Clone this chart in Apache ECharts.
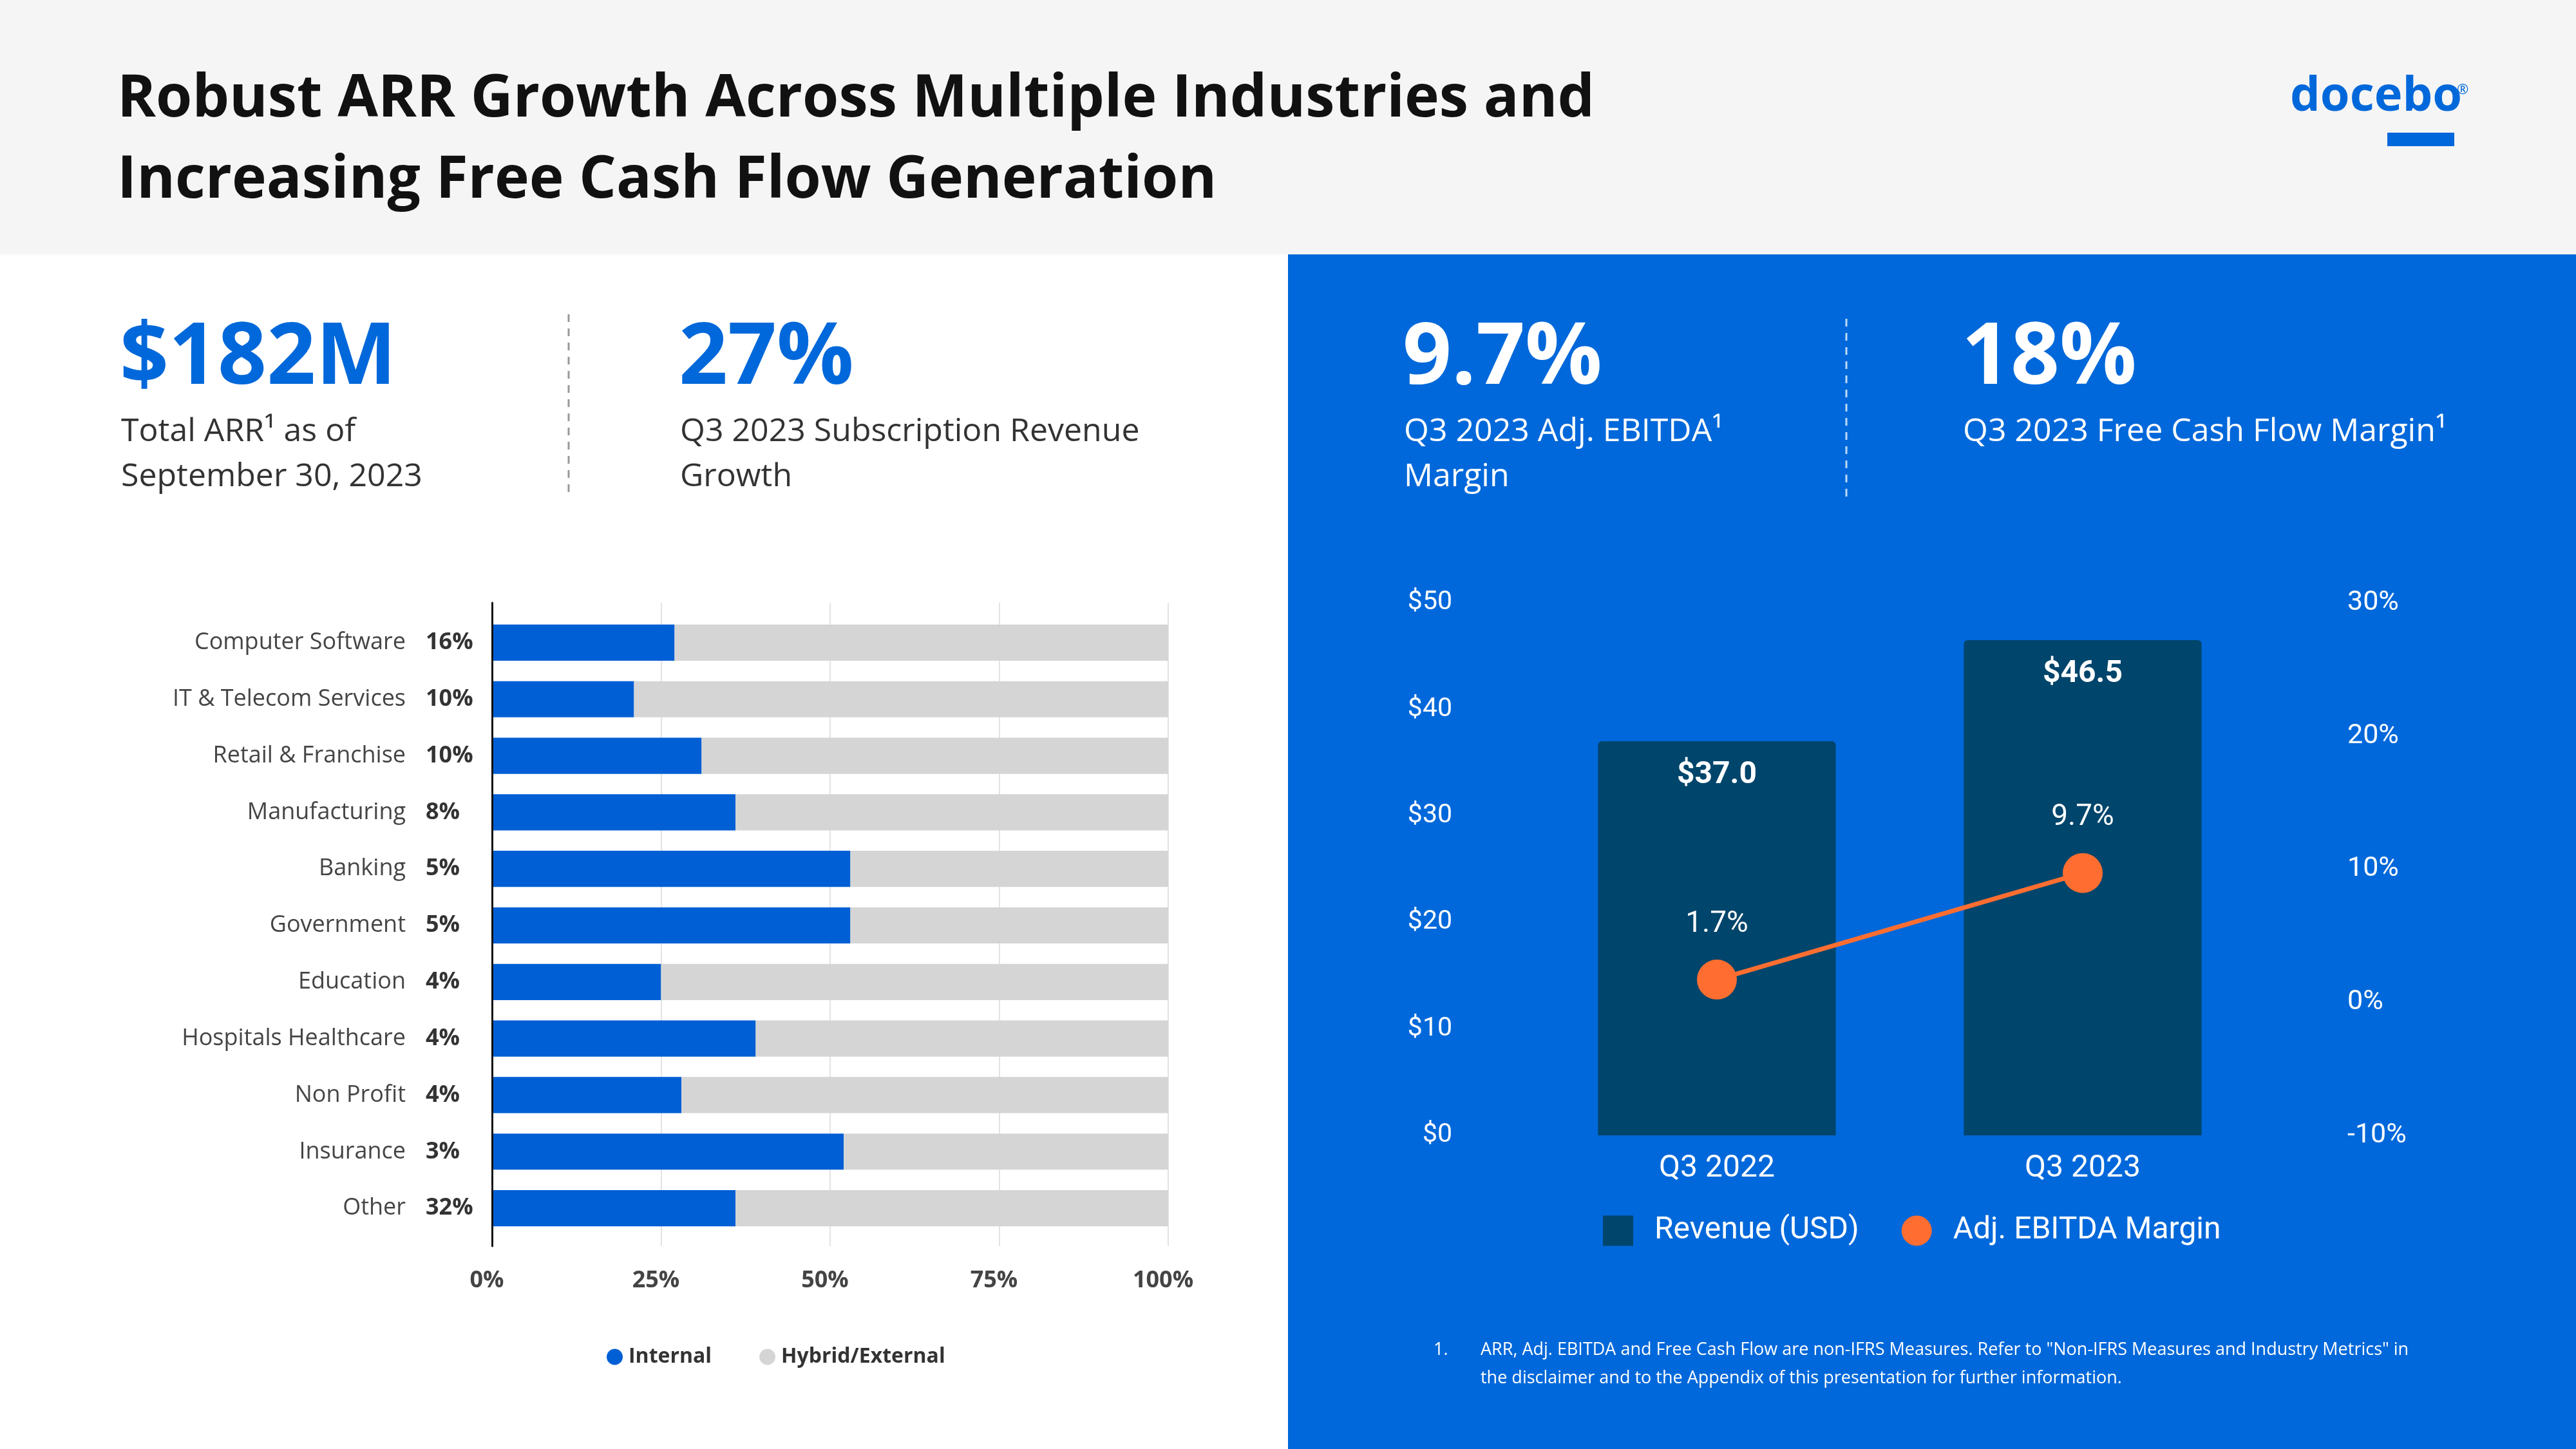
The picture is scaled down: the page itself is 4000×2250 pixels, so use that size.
<!DOCTYPE html>
<html><head><meta charset="utf-8">
<script src="https://cdn.jsdelivr.net/npm/echarts@6/dist/echarts.min.js"></script>
<style>html,body{margin:0;padding:0;background:#fff}#c{width:4000px;height:2250px}</style>
</head><body><div id="c"></div>
<script>
// ---- data ----
const industries = ['Computer Software','IT & Telecom Services','Retail & Franchise','Manufacturing','Banking','Government','Education','Hospitals Healthcare','Non Profit','Insurance','Other'];
const arrShare = ['16%','10%','10%','8%','5%','5%','4%','4%','4%','3%','32%'];
const internalPct = [27,21,31,36,53,53,25,39,28,52,36];
const hybridPct = [73,79,69,64,47,47,75,61,72,48,64];
const quarters = ['Q3 2022','Q3 2023'];
const revenue = [37.0,46.5];
const ebitdaMargin = [1.7,9.7];
const titleLines = ['Robust ARR Growth Across Multiple Industries and','Increasing Free Cash Flow Generation'];
const footnote = ['ARR, Adj. EBITDA and Free Cash Flow are non-IFRS Measures. Refer to "Non-IFRS Measures and Industry Metrics" in','the disclaimer and to the Appendix of this presentation for further information.'];

const BLUE = '#0068DA';
const chart = echarts.init(document.getElementById('c'));
const OS = 'Open Sans';
const RB = 'Roboto';

const graphics = [
  {type:'rect', z:-100, shape:{x:0,y:0,width:4000,height:395}, style:{fill:'#f5f5f5'}},
  {type:'rect', z:-100, shape:{x:2000,y:395,width:2000,height:1855}, style:{fill:BLUE}},
  {type:'text', z:100, x:182, y:92, style:{text:titleLines.join('\n'), fontFamily:OS, fontWeight:'bold', fontSize:91, lineHeight:126, fill:'#111', align:'left', verticalAlign:'top'}},
  {type:'text', z:100, x:3556, y:151, style:{text:'docebo', fontFamily:OS, fontWeight:'bold', fontSize:74, fill:BLUE, align:'left', verticalAlign:'middle'}},
  {type:'text', z:100, x:3815, y:140, style:{text:'®', fontFamily:OS, fontSize:22, fill:BLUE, align:'left', verticalAlign:'middle'}},
  {type:'rect', z:100, shape:{x:3707,y:206,width:104,height:21}, style:{fill:BLUE}},
  // KPIs
  {type:'text', z:100, x:186, y:558, style:{text:'$182M', fontFamily:OS, fontWeight:'bold', fontSize:133, fill:BLUE, align:'left', verticalAlign:'middle'}},
  {type:'text', z:100, x:188, y:636, style:{text:'Total ARR¹ as of\nSeptember 30, 2023', fontFamily:OS, fontSize:50, lineHeight:70, fill:'#333', align:'left', verticalAlign:'top'}},
  {type:'line', z:100, shape:{x1:883,y1:488,x2:883,y2:773}, style:{stroke:'#999', lineWidth:3, lineDash:[12,10]}},
  {type:'text', z:100, x:1054, y:558, style:{text:'27%', fontFamily:OS, fontWeight:'bold', fontSize:133, fill:BLUE, align:'left', verticalAlign:'middle'}},
  {type:'text', z:100, x:1056, y:636, style:{text:'Q3 2023 Subscription Revenue\nGrowth', fontFamily:OS, fontSize:50, lineHeight:70, fill:'#333', align:'left', verticalAlign:'top'}},
  {type:'text', z:100, x:2178, y:558, style:{text:'9.7%', fontFamily:OS, fontWeight:'bold', fontSize:133, fill:'#fff', align:'left', verticalAlign:'middle'}},
  {type:'text', z:100, x:2180, y:636, style:{text:'Q3 2023 Adj. EBITDA¹\nMargin', fontFamily:OS, fontSize:50, lineHeight:70, fill:'#fff', align:'left', verticalAlign:'top'}},
  {type:'line', z:100, shape:{x1:2867,y1:495,x2:2867,y2:780}, style:{stroke:'rgba(255,255,255,0.75)', lineWidth:3, lineDash:[12,10]}},
  {type:'text', z:100, x:3046, y:558, style:{text:'18%', fontFamily:OS, fontWeight:'bold', fontSize:133, fill:'#fff', align:'left', verticalAlign:'middle'}},
  {type:'text', z:100, x:3048, y:636, style:{text:'Q3 2023 Free Cash Flow Margin¹', fontFamily:OS, fontSize:50, lineHeight:70, fill:'#fff', align:'left', verticalAlign:'top'}},
  // footnote
  {type:'text', z:100, x:2226, y:2096, style:{text:'1.', fontFamily:OS, fontSize:27, fill:'#fff', align:'left', verticalAlign:'middle'}},
  {type:'text', z:100, x:2299, y:2074, style:{text:footnote.join('\n'), fontFamily:OS, fontSize:27, lineHeight:44, fill:'#fff', align:'left', verticalAlign:'top'}}
];

const option = {
  backgroundColor:'#ffffff',
  animation:false,
  textStyle:{fontFamily:OS},
  graphic:{elements:graphics},
  legend:[
    {data:['Internal','Hybrid/External'], left:937, top:2086, itemWidth:25, itemHeight:25, itemGap:74, icon:'circle',
     textStyle:{fontSize:32, fontWeight:'bold', color:'#333', fontFamily:OS, padding:[0,0,0,4]}},
    {data:[{name:'Revenue (USD)', icon:'rect'},{name:'Adj. EBITDA Margin', icon:'circle'}], left:2484, top:1882, itemWidth:47, itemHeight:47, itemGap:66,
     textStyle:{fontSize:48, color:'#fff', fontFamily:RB, padding:[0,0,0,28]}}
  ],
  grid:[
    {left:764, top:936, width:1050, height:999},
    {left:764, top:954, width:1050, height:966},
    {left:2382, top:936, width:1136, height:827}
  ],
  xAxis:[
    {gridIndex:0, type:'value', min:0, max:100, interval:25, axisLine:{show:false}, axisTick:{show:false},
     splitLine:{lineStyle:{color:'#e3e3e3', width:2}},
     axisLabel:{formatter:'{value}%', fontSize:36, fontWeight:'bold', color:'#444', margin:36, fontFamily:OS, padding:[0,16,0,0]}},
    {gridIndex:1, type:'value', min:0, max:100, show:false},
    {gridIndex:2, type:'category', data:quarters, axisLine:{show:false}, axisTick:{show:false},
     axisLabel:{fontSize:48, color:'#fff', fontFamily:RB, margin:28}}
  ],
  yAxis:[
    {gridIndex:0, type:'value', min:0, max:1, z:10, axisLine:{show:true, lineStyle:{color:'#111', width:3}}, axisLabel:{show:false}, axisTick:{show:false}, splitLine:{show:false}},
    {gridIndex:1, type:'category', data:industries, inverse:true, axisLine:{show:false}, axisTick:{show:false},
     axisLabel:{margin:134, fontSize:36, color:'#454545', fontFamily:OS}},
    {gridIndex:2, type:'value', min:0, max:50, interval:10, position:'left', axisLine:{show:false}, axisTick:{show:false}, splitLine:{show:false},
     axisLabel:{formatter:'${value}', fontSize:41, color:'#fff', margin:127, fontFamily:RB}},
    {gridIndex:2, type:'value', min:-10, max:30, interval:10, position:'right', axisLine:{show:false}, axisTick:{show:false}, splitLine:{show:false},
     axisLabel:{formatter:'{value}%', fontSize:43, color:'#fff', margin:127, fontFamily:RB}},
    {gridIndex:1, type:'category', data:arrShare, inverse:true, position:'left', axisLine:{show:false}, axisTick:{show:false},
     axisLabel:{margin:103, align:'left', fontSize:36, fontWeight:'bold', color:'#333', fontFamily:OS}}
  ],
  series:[
    {name:'Internal', type:'bar', xAxisIndex:1, yAxisIndex:1, stack:'ind', data:internalPct, barWidth:'64%', itemStyle:{color:'#005FD4'}},
    {name:'Hybrid/External', type:'bar', xAxisIndex:1, yAxisIndex:1, stack:'ind', data:hybridPct, barWidth:'64%', itemStyle:{color:'#D5D5D5'}},
    {name:'Revenue (USD)', type:'bar', xAxisIndex:2, yAxisIndex:2, data:revenue, barWidth:'65%', itemStyle:{color:'#00456B', borderRadius:[6,6,0,0]},
     label:{show:true, position:'insideTop', distance:29, formatter:p=>'$'+p.value.toFixed(1), fontSize:48, fontWeight:'bold', color:'#fff', fontFamily:RB}},
    {name:'Adj. EBITDA Margin', type:'line', xAxisIndex:2, yAxisIndex:3, data:ebitdaMargin, symbol:'circle', symbolSize:62, z:5,
     lineStyle:{color:'#FF6E30', width:7}, itemStyle:{color:'#FF6E30'},
     label:{show:true, position:'top', distance:32, formatter:p=>p.value.toFixed(1)+'%', fontSize:46, color:'#fff', fontFamily:RB}}
  ]
};
chart.setOption(option);
</script></body></html>
